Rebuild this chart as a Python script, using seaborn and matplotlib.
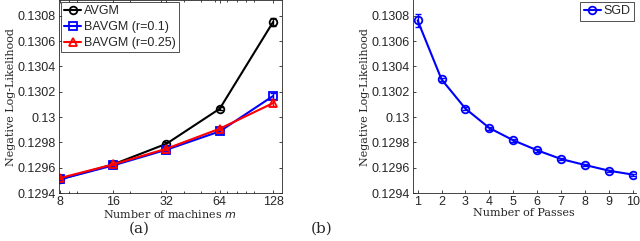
import numpy as np
import pandas as pd
import seaborn as sns
import matplotlib.pyplot as plt
from matplotlib.ticker import FuncFormatter, LogLocator, FixedLocator

# Data
machines = [8, 16, 32, 64, 128]
avgm = [0.129508, 0.129626, 0.129789, 0.130066, 0.130750]
bavgm_01 = [0.129508, 0.129618, 0.129742, 0.129887, 0.130166]
bavgm_025 = [0.129518, 0.129626, 0.129750, 0.129908, 0.130110]
avgm_err = [0.000008, 0.000008, 0.000010, 0.000012, 0.000030]
bavgm_01_err = [0.000008, 0.000008, 0.000008, 0.000010, 0.000025]
bavgm_025_err = [0.000008, 0.000008, 0.000008, 0.000010, 0.000025]

passes = [1, 2, 3, 4, 5, 6, 7, 8, 9, 10]
sgd = [0.130763, 0.130297, 0.130066, 0.129913, 0.129816,
       0.129737, 0.129668, 0.129621, 0.129576, 0.129545]
sgd_err = [0.000050, 0.000015, 0.000012, 0.000012, 0.000010,
           0.000010, 0.000008, 0.000008, 0.000008, 0.000008]

y_ticks = [0.1294, 0.1296, 0.1298, 0.13, 0.1302, 0.1304, 0.1306, 0.1308]

sns.set_style('ticks')
plt.rcParams['font.family'] = ['Liberation Sans', 'DejaVu Sans']
plt.rcParams['xtick.direction'] = 'in'
plt.rcParams['ytick.direction'] = 'in'

serif = ['DejaVu Serif']
fs = 9
lfs = 8

fig = plt.figure(figsize=(6.4, 2.41), dpi=100)
ax1 = fig.add_axes([0.092, 0.199, 0.348, 0.799])
ax2 = fig.add_axes([0.645, 0.199, 0.348, 0.799])

gfmt = FuncFormatter(lambda v, p: '%g' % round(v, 6))

# (a) averaging methods vs number of machines
series = [
    ('AVGM', avgm, avgm_err, 'black', 'o'),
    ('BAVGM (r=0.1)', bavgm_01, bavgm_01_err, 'blue', 's'),
    ('BAVGM (r=0.25)', bavgm_025, bavgm_025_err, 'red', '^'),
]
for name, vals, err, col, mk in series:
    sns.lineplot(x=machines, y=vals, ax=ax1, color=col, marker=mk,
                 markerfacecolor='none', markeredgecolor=col, markersize=5.5,
                 markeredgewidth=1.3, linewidth=1.5, label=name)
    ax1.errorbar(machines, vals, yerr=err, fmt='none', ecolor=col,
                 elinewidth=1.0, capsize=2)

ax1.set_xscale('log', base=2)
ax1.set_xlim(7.9, 143)
ax1.xaxis.set_major_locator(FixedLocator(machines))
ax1.xaxis.set_major_formatter(FuncFormatter(lambda v, p: '%d' % v))
ax1.xaxis.set_minor_locator(LogLocator(base=10, subs=np.arange(1, 10)))
ax1.xaxis.set_minor_formatter(FuncFormatter(lambda v, p: ''))
ax1.tick_params(which='both', top=True, right=True, labelsize=fs,
                length=2.5, width=0.6, pad=2)
ax1.tick_params(which='minor', length=1.5)
ax1.set_xlabel('Number of machines $m$', family=serif, fontsize=lfs, labelpad=0)
leg = ax1.legend(loc='upper left', fontsize=fs, frameon=True, fancybox=False,
                 handlelength=1.4, handletextpad=0.2, borderpad=0.25,
                 labelspacing=0.3, borderaxespad=0.15)
leg.get_frame().set_edgecolor('black')
leg.get_frame().set_linewidth(0.6)

# (b) SGD vs number of passes
sns.lineplot(x=passes, y=sgd, ax=ax2, color='blue', marker='o',
             markerfacecolor='none', markeredgecolor='blue', markersize=5.5,
             markeredgewidth=1.3, linewidth=1.5, label='SGD')
ax2.errorbar(passes, sgd, yerr=sgd_err, fmt='none', ecolor='blue',
             elinewidth=1.0, capsize=2)
ax2.set_xlim(0.8, 10.1)
ax2.set_xticks(passes)
ax2.tick_params(labelsize=fs, length=2.5, width=0.6, pad=2)
ax2.set_xlabel('Number of Passes', family=serif, fontsize=lfs, labelpad=0)
sns.despine(ax=ax2)
leg = ax2.legend(loc='upper right', fontsize=fs, frameon=True, fancybox=False,
                 handlelength=1.4, handletextpad=0.2, borderpad=0.25,
                 borderaxespad=0.15)
leg.get_frame().set_edgecolor('black')
leg.get_frame().set_linewidth(0.6)

for ax in (ax1, ax2):
    ax.set_ylim(0.1294, 0.13092)
    ax.set_yticks(y_ticks)
    ax.yaxis.set_major_formatter(gfmt)
    ax.set_ylabel('Negative Log-Likelihood', family=serif, fontsize=lfs,
                  labelpad=1)
    for s in ax.spines.values():
        s.set_linewidth(0.6)

fig.text(0.218, 0.05, '(a)', family=serif, fontsize=11, ha='center', va='center')
fig.text(0.503, 0.05, '(b)', family=serif, fontsize=11, ha='center', va='center')

fig.savefig('out.png', dpi=100)
